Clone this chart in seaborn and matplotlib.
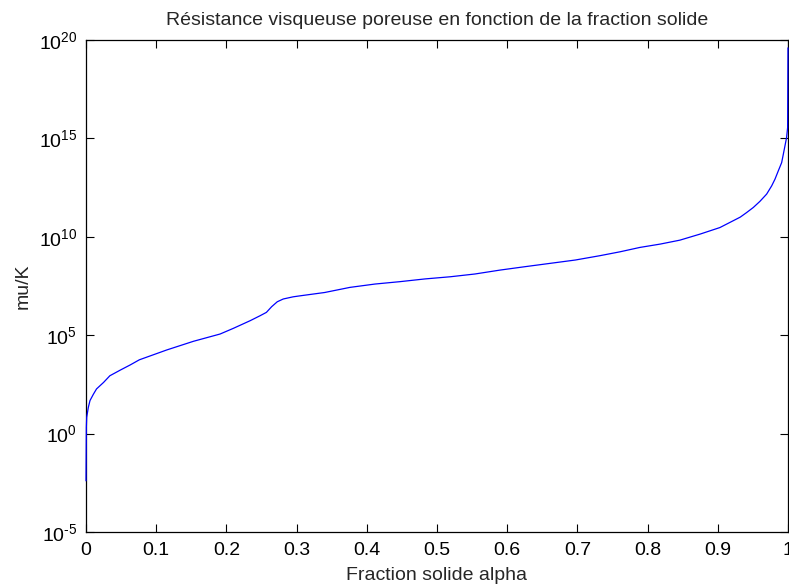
import numpy as np
import matplotlib
matplotlib.use('Agg')
import matplotlib.pyplot as plt
import seaborn as sns

# Values (alpha, log10 of mu/K)
alpha = [0.0, 0.0005, 0.001, 0.0033, 0.0057, 0.0105, 0.015, 0.025, 0.034,
         0.049, 0.063, 0.076, 0.115, 0.153, 0.191, 0.21, 0.234, 0.248,
         0.257, 0.2645, 0.2725, 0.281, 0.295, 0.3048, 0.340, 0.376, 0.4117,
         0.447, 0.483, 0.519, 0.554, 0.590, 0.625, 0.661, 0.697, 0.732,
         0.761, 0.789, 0.818, 0.846, 0.875, 0.903, 0.932, 0.941, 0.9506,
         0.960, 0.9696, 0.9768, 0.9815, 0.9862, 0.991, 0.9934, 0.9957,
         0.998, 0.9995, 1.0]
log_mu_k = [-2.4, 0.32, 0.83, 1.33, 1.68, 2.0, 2.27, 2.6, 2.94,
            3.23, 3.49, 3.75, 4.25, 4.69, 5.06, 5.35, 5.74, 5.99,
            6.16, 6.45, 6.7, 6.84, 6.95, 7.0, 7.17, 7.43, 7.60,
            7.72, 7.86, 7.97, 8.11, 8.31, 8.48, 8.65, 8.82, 9.04,
            9.24, 9.46, 9.63, 9.83, 10.14, 10.47, 11.0, 11.23, 11.49,
            11.8, 12.17, 12.59, 12.93, 13.35, 13.77, 14.2, 14.62,
            15.04, 15.55, 19.6]
mu_k = 10.0 ** np.array(log_mu_k)

x_ticks = [0, 0.1, 0.2, 0.3, 0.4, 0.5, 0.6, 0.7, 0.8, 0.9, 1]
x_tick_labels = ['0', '0.1', '0.2', '0.3', '0.4', '0.5', '0.6', '0.7', '0.8', '0.9', '1']
y_ticks = [1e-5, 1e0, 1e5, 1e10, 1e15, 1e20]
# hyphen (not minus sign) in the exponent, like the original
y_tick_labels = [r'$\mathdefault{10^{\text{-}5}}$', r'$\mathdefault{10^{0}}$',
                 r'$\mathdefault{10^{5}}$', r'$\mathdefault{10^{10}}$',
                 r'$\mathdefault{10^{15}}$', r'$\mathdefault{10^{20}}$']

sns.set_style('white')
plt.rcParams['font.family'] = ['Liberation Sans', 'DejaVu Sans']
plt.rcParams['mathtext.fontset'] = 'custom'
plt.rcParams['mathtext.rm'] = 'Liberation Sans'
plt.rcParams['axes.unicode_minus'] = False

fig = plt.figure(figsize=(7.89, 5.85), dpi=100)
ax = fig.add_axes([0.109, 0.0906, 0.8897, 0.841])

sns.lineplot(x=alpha, y=mu_k, color='blue', linewidth=0.9, ax=ax,
             sort=False, zorder=3, clip_on=False)

ax.set_yscale('log')
ax.set_xlim(0, 1)
ax.set_ylim(1e-5, 1e20)
ax.set_xticks(x_ticks)
ax.set_xticklabels(x_tick_labels)
ax.set_yticks(y_ticks)
ax.set_yticklabels(y_tick_labels)
ax.minorticks_off()

ax.tick_params(direction='in', length=5.5, width=0.8, labelsize=14,
               top=True, right=True, bottom=True, left=True, colors='black')
ax.tick_params(axis='x', pad=7)
ax.tick_params(axis='y', pad=6.5)
for side in ['top', 'bottom', 'left', 'right']:
    ax.spines[side].set_visible(True)
    ax.spines[side].set_color('black')
    ax.spines[side].set_linewidth(0.9)

ax.set_title('Résistance visqueuse poreuse en fonction de la fraction solide',
             fontsize=14, pad=11)
ax.set_xlabel('Fraction solide alpha', fontsize=14, labelpad=6)
ax.set_ylabel('mu/K', fontsize=14, labelpad=5)

fig.savefig('out.png', dpi=100)
